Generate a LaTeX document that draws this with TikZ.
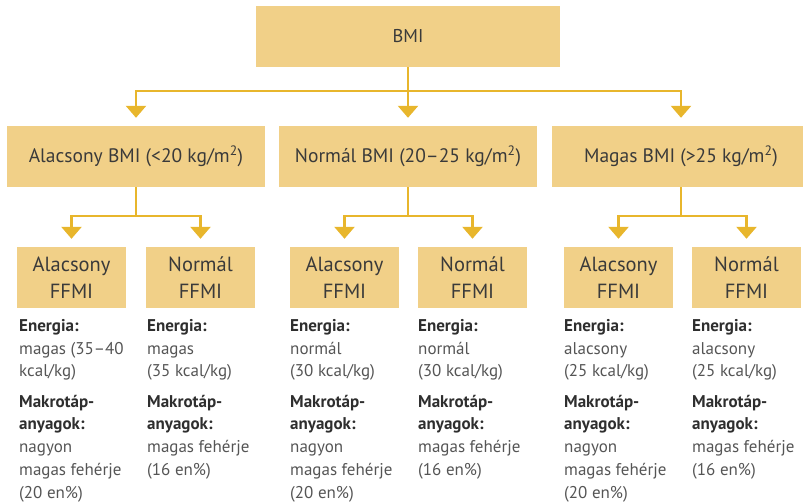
\documentclass[tikz,border=0pt]{standalone}
\usepackage{fontspec}
\setmainfont{PT Sans}
\usetikzlibrary{arrows.meta}
\definecolor{boxfill}{HTML}{F1D088}
\definecolor{linecol}{HTML}{E8B62C}
\definecolor{boxtext}{HTML}{3A3A3A}
\definecolor{headtext}{HTML}{2E2E2E}
\definecolor{valtext}{HTML}{555555}
\tikzset{
  boxnode/.style={fill=boxfill, inner sep=0pt, align=center, text=boxtext, font=\fontsize{19.5}{27}\selectfont},
  subbox/.style={boxnode, minimum width=109pt, minimum height=61pt, font=\fontsize{20.5}{27}\selectfont},
  arr/.style={draw=linecol, line width=2.6pt, -{Triangle[width=20pt,length=12pt]}, shorten >=8pt},
  info/.style={anchor=north west, inner sep=0pt, align=left, text=valtext, font=\fontsize{17}{22.8}\selectfont},
}
\newcommand{\hd}[1]{{\bfseries\color{headtext}#1}}
\begin{document}
\begin{tikzpicture}[x=1pt,y=-1pt]
\useasboundingbox (0,0) rectangle (803,502);
\clip (0,0) rectangle (803,502);
% top
\node[boxnode, minimum width=304pt, minimum height=61pt, font=\fontsize{18.5}{27}\selectfont] (bmi) at (408,36.5) {BMI};
% level 2
\node[boxnode, minimum width=258pt, minimum height=61pt] (l1) at (136,156.5) {Alacsony BMI (<20 kg/m\textsuperscript{2})};
\node[boxnode, minimum width=258pt, minimum height=61pt] (l2) at (408,156.5) {Normál BMI (20–25 kg/m\textsuperscript{2})};
\node[boxnode, minimum width=258pt, minimum height=61pt] (l3) at (681,156.5) {Magas BMI (>25 kg/m\textsuperscript{2})};
% level 3
\foreach \n/\x/\t in {a1/71.5/Alacsony, a2/200.5/Normál, b1/344.5/Alacsony, b2/472.5/Normál, c1/618.5/Alacsony, c2/746.5/Normál}{
  \node[subbox] (\n) at (\x,277.5) {\t\\FFMI};
}
% junction coordinates
\coordinate (jt) at (0,91);
\coordinate (j1) at (0,216);
% connectors
\draw[arr] (bmi.south) -- (bmi.south |- jt) -| (l1.north);
\draw[arr] (bmi.south) -- (l2.north);
\draw[arr] (bmi.south) -- (bmi.south |- jt) -| (l3.north);
\foreach \p/\a/\b in {l1/a1/a2, l2/b1/b2, l3/c1/c2}{
  \draw[arr] (\p.south) -- (\p.south |- j1) -| (\a.north);
  \draw[arr] (\p.south) -- (\p.south |- j1) -| (\b.north);
}
% info texts
\node[info] (ta1) at (19,319) {\hd{Energia:}\\magas (35–40\\kcal/kg)\\[7.5pt]\hd{Makrotáp-}\\\hd{anyagok:}\\nagyon\\magas fehérje\\(20 en\%)};
\node[info] (ta2) at (147,319) {\hd{Energia:}\\magas\\(35 kcal/kg)\\[7.5pt]\hd{Makrotáp-}\\\hd{anyagok:}\\magas fehérje\\(16 en\%)};
\node[info] (tb1) at (290,319) {\hd{Energia:}\\normál\\(30 kcal/kg)\\[7.5pt]\hd{Makrotáp-}\\\hd{anyagok:}\\nagyon\\magas fehérje\\(20 en\%)};
\node[info] (tb2) at (418,319) {\hd{Energia:}\\normál\\(30 kcal/kg)\\[7.5pt]\hd{Makrotáp-}\\\hd{anyagok:}\\magas fehérje\\(16 en\%)};
\node[info] (tc1) at (564,319) {\hd{Energia:}\\alacsony\\(25 kcal/kg)\\[7.5pt]\hd{Makrotáp-}\\\hd{anyagok:}\\nagyon\\magas fehérje\\(20 en\%)};
\node[info] (tc2) at (692,319) {\hd{Energia:}\\alacsony\\(25 kcal/kg)\\[7.5pt]\hd{Makrotáp-}\\\hd{anyagok:}\\magas fehérje\\(16 en\%)};
\end{tikzpicture}
\end{document}
